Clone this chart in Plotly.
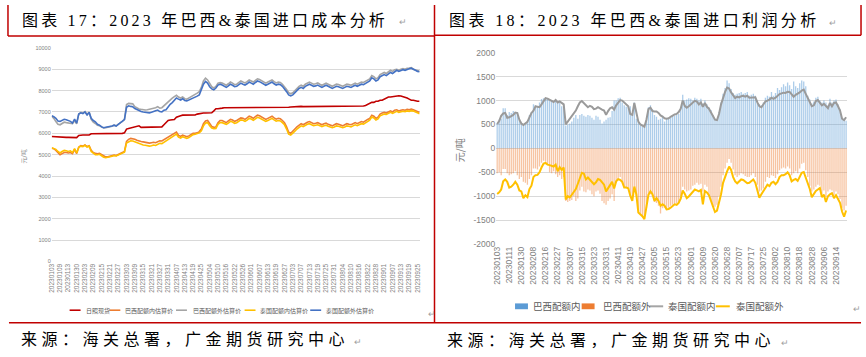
import plotly.graph_objects as go

W, H = 866, 357


def px(x):
    return x / W


def py(y):
    return 1 - y / H


# ---------------- Left chart data (元/吨) ----------------
left_ticklabels = [
    "20230103", "20230109", "20230113", "20230130", "20230203", "20230209", "20230215", "20230221",
    "20230227", "20230303", "20230309", "20230315", "20230321", "20230327", "20230331", "20230407",
    "20230413", "20230419", "20230425", "20230504", "20230510", "20230516", "20230522", "20230526",
    "20230601", "20230607", "20230613", "20230619", "20230627", "20230703", "20230707", "20230713",
    "20230719", "20230725", "20230731", "20230804", "20230810", "20230816", "20230822", "20230828",
    "20230901", "20230907", "20230913", "20230919", "20230925",
]
left_yticks = [0, 1000, 2000, 3000, 4000, 5000, 6000, 7000, 8000, 9000, 10000]

rizhao_spot = [
    5850, 5840, 5840, 5830, 5830, 5820, 5820, 5810, 5810, 5800, 5800, 5800, 5800,
    5900, 5920, 5920, 5920, 5930, 5920,
    5980, 5980, 5980, 5990, 5980, 5980,
    6000, 6000, 6000, 6010, 6000, 6000, 6000, 6010, 6000, 6000, 6020,
    6200, 6230, 6250, 6300, 6300, 6320, 6350,
    6280, 6280, 6270, 6280, 6280, 6270, 6280, 6280, 6280, 6280, 6300,
    6400, 6500, 6600, 6620, 6640, 6650, 6750, 6800, 6820,
    6850, 6850, 6850, 6860, 6850, 6850, 6860,
    6900, 6920, 6950, 6950, 6950, 6950, 6950, 6960, 7050, 7150, 7150, 7180,
    7180, 7200, 7200, 7200, 7190, 7200, 7200, 7210, 7200, 7200,
    7200, 7210, 7200, 7200, 7200, 7210, 7220, 7200, 7200, 7200,
    7210, 7200, 7200, 7210, 7220, 7200, 7200, 7200, 7210, 7200,
    7200, 7200,
    7220, 7230, 7240, 7250, 7250, 7250, 7260, 7250, 7250, 7250,
    7260, 7250, 7250, 7250, 7260, 7250, 7250, 7260, 7250, 7250,
    7250, 7260, 7250, 7260, 7260, 7250, 7260, 7270, 7260, 7260,
    7270, 7260, 7270, 7280, 7280, 7270, 7280, 7300,
    7350, 7400, 7450, 7450, 7500, 7500, 7550, 7550, 7600, 7650, 7700, 7700, 7720,
    7750, 7750, 7760, 7750, 7720, 7700, 7650, 7600, 7550, 7550, 7520, 7500, 7500,
]

brazil_in_est = [
    5300, 5280, 5200, 5080, 5000, 5050, 5100, 5100, 5080, 5100,
    5050, 5250, 5050, 5350, 5420, 5400, 5460, 5380, 5420, 5200,
    5100, 5060, 5040, 5060, 5000, 4920, 4900, 4900, 4920, 4950,
    4980, 4960, 5000, 5050, 5080, 5150, 5620, 5720, 5760, 5750,
    5720, 5680, 5640, 5620, 5600, 5580, 5560, 5540, 5560, 5580,
    5560, 5600, 5650, 5640, 5700, 5780, 5820, 5900, 5960, 6000,
    6060, 5900, 5860, 5920, 5880, 5840, 5880, 5940, 6000, 6000,
    6020, 6080, 6200, 6450, 6580, 6600, 6450, 6320, 6280, 6300,
    6500, 6600,
    6600, 6550, 6500, 6580, 6650, 6620, 6560, 6600, 6680, 6720,
    6700, 6650, 6720, 6800, 6760, 6700, 6780, 6850, 6820, 6760,
    6700, 6650, 6700, 6760, 6800, 6720, 6660, 6700, 6680, 6600,
    6500, 6300, 6050, 6000, 6080, 6200, 6300, 6400, 6450, 6400,
    6480, 6520, 6550, 6500, 6450, 6470, 6500, 6450, 6400, 6450,
    6480, 6420, 6380, 6350, 6400, 6450, 6420, 6380, 6350, 6400,
    6450, 6420, 6400, 6450, 6500, 6450, 6500, 6550, 6520, 6600,
    6650, 6700, 6850, 6800, 6700, 6750, 6900, 6950, 6980, 6950,
    7000, 7050, 7000, 7080, 7100, 7050, 7080, 7100, 7080, 7120,
    7100, 7130, 7100, 7050, 7000, 6980,
]

brazil_out_est = [
    6800, 6700, 6550, 6420, 6400, 6450, 6520, 6500, 6480, 6470,
    6450, 6600, 6440, 6900, 6980, 6950, 7020, 6880, 7000, 6650,
    6520, 6460, 6380, 6350, 6280, 6250, 6260, 6280, 6290, 6330,
    6380, 6350, 6420, 6480, 6560, 6650, 7350, 7400, 7400, 7380,
    7250, 7180, 7140, 7120, 7100, 7090, 7100, 7120, 7150, 7180,
    7200, 7250, 7180, 7200, 7300, 7400, 7500, 7580, 7650, 7720,
    7780, 7700, 7650, 7700, 7620, 7600, 7650, 7700, 7760, 7820,
    7880, 7950, 8150, 8450, 8580, 8500, 8300, 8180, 8120, 8200,
    8350, 8380,
    8350, 8300, 8250, 8320, 8400, 8350, 8280, 8300, 8380, 8450,
    8400, 8360, 8420, 8500, 8450, 8400, 8480, 8550, 8520, 8460,
    8400, 8350, 8400, 8450, 8500, 8420, 8360, 8400, 8380, 8300,
    8200, 8050, 7900, 7850, 7900, 8000, 8100, 8200, 8250, 8200,
    8300, 8350, 8400, 8350, 8300, 8320, 8360, 8300, 8250, 8300,
    8350, 8300, 8250, 8200, 8250, 8300, 8280, 8220, 8200, 8250,
    8300, 8280, 8250, 8300, 8350, 8300, 8350, 8400, 8380, 8450,
    8500, 8550, 8700, 8650, 8550, 8600, 8750, 8800, 8850, 8800,
    8900, 8950, 8900, 8980, 9000, 8950, 9000, 9030, 9000, 9050,
    9060, 9080, 9000, 8970, 8920, 8900,
]

thai_in_est = [
    5320, 5300, 5250, 5150, 5080, 5150, 5200, 5180, 5150, 5180,
    5100, 5280, 5080, 5350, 5400, 5380, 5440, 5360, 5400, 5150,
    5050, 5000, 5000, 5020, 4950, 4880, 4860, 4870, 4900, 4930,
    4960, 4940, 4980, 5020, 5060, 5120, 5550, 5620, 5650, 5640,
    5600, 5540, 5500, 5470, 5450, 5440, 5420, 5400, 5420, 5450,
    5430, 5480, 5530, 5520, 5580, 5680, 5720, 5800, 5860, 5900,
    5960, 5820, 5780, 5840, 5800, 5760, 5800, 5880, 5940, 5960,
    5980, 6020, 6120, 6350, 6480, 6500, 6360, 6250, 6220, 6230,
    6420, 6500,
    6500, 6460, 6420, 6480, 6560, 6530, 6470, 6500, 6580, 6630,
    6610, 6560, 6620, 6700, 6670, 6610, 6680, 6750, 6720, 6670,
    6610, 6560, 6600, 6660, 6700, 6630, 6570, 6600, 6580, 6500,
    6400, 6200, 5960, 5920, 5990, 6100, 6200, 6300, 6350, 6310,
    6380, 6420, 6450, 6400, 6360, 6380, 6400, 6360, 6310, 6350,
    6380, 6330, 6290, 6260, 6300, 6350, 6330, 6290, 6260, 6300,
    6350, 6330, 6300, 6350, 6400, 6360, 6400, 6450, 6430, 6500,
    6560, 6620, 6760, 6720, 6620, 6670, 6820, 6870, 6900, 6880,
    6930, 6980, 6930, 7000, 7030, 6980, 7000, 7030, 7010, 7050,
    7030, 7060, 7040, 6990, 6940, 6920,
]

thai_out_est = [
    6820, 6780, 6700, 6580, 6560, 6620, 6660, 6640, 6600, 6560,
    6480, 6660, 6480, 6900, 6960, 6920, 7000, 6860, 6980, 6700,
    6600, 6540, 6420, 6380, 6300, 6260, 6280, 6300, 6300, 6340,
    6380, 6340, 6420, 6480, 6560, 6640, 7220, 7290, 7260, 7240,
    7160, 7100, 7040, 7020, 7000, 6980, 6970, 6960, 6990, 7010,
    7060, 7090, 7020, 7000, 7080, 7100, 7240, 7360, 7440, 7550,
    7650, 7600, 7560, 7620, 7540, 7520, 7560, 7600, 7640, 7700,
    7740, 7800, 8020, 8300, 8430, 8350, 8180, 8080, 8040, 8120,
    8260, 8300,
    8260, 8200, 8150, 8220, 8300, 8250, 8180, 8200, 8280, 8350,
    8300, 8260, 8320, 8400, 8350, 8300, 8380, 8450, 8420, 8360,
    8300, 8250, 8300, 8350, 8400, 8320, 8260, 8300, 8280, 8200,
    8100, 7950, 7800, 7750, 7800, 7900, 8000, 8100, 8150, 8100,
    8200, 8250, 8300, 8250, 8200, 8220, 8260, 8200, 8150, 8200,
    8250, 8200, 8150, 8100, 8150, 8200, 8180, 8120, 8100, 8150,
    8200, 8180, 8150, 8200, 8250, 8200, 8250, 8300, 8280, 8350,
    8400, 8450, 8600, 8550, 8450, 8500, 8650, 8700, 8750, 8700,
    8800, 8850, 8800, 8900, 8950, 8900, 8950, 8980, 8950, 9000,
    9020, 9050, 8980, 8950, 8900, 8880,
]

left_series = [
    ("日照现货", rizhao_spot, "#C00000"),
    ("巴西配额内估算价", brazil_in_est, "#ED7D31"),
    ("巴西配额外估算价", brazil_out_est, "#A5A5A5"),
    ("泰国配额内估算价", thai_in_est, "#FFC000"),
    ("泰国配额外估算价", thai_out_est, "#4472C4"),
]

# ---------------- Right chart data (元/吨) ----------------
right_ticklabels = [
    "20230103", "20230111", "20230130", "20230208", "20230216", "20230227", "20230307", "20230315",
    "20230323", "20230331", "20230411", "20230419", "20230427", "20230505", "20230515", "20230523",
    "20230601", "20230609", "20230620", "20230628", "20230707", "20230717", "20230725", "20230802",
    "20230810", "20230818", "20230828", "20230906", "20230914",
]
right_yticks = [-2000, -1500, -1000, -500, 0, 500, 1000, 1500, 2000]

brazil_in_profit = [
    530, 600, 620, 840, 840, 700, 760, 740, 780, 720,
    760, 600, 530, 470, 500, 560, 700, 760, 920, 900,
    880, 960, 1030, 1050, 1040, 1050, 1000, 1000, 960, 1020,
    950, 960, 880, 900, 480, 500, 520, 560, 640, 700,
    620, 700, 720, 680, 660, 700, 680, 640, 600, 680,
    660, 600, 520, 560, 600, 640, 650, 780, 1000, 1000,
    1050, 1060, 960, 900, 870, 860, 880, 700, 960, 620,
    560, 480, 450, 440, 600, 860, 900, 820, 700, 660,
    600, 620, 680, 560, 620, 640, 640, 680, 680, 700,
    720, 860, 1120, 1000, 1020, 1050, 1040, 1000, 1060, 1040,
    1000, 1040, 940, 1000, 920, 860, 800, 700, 620, 600,
    760, 960, 1140, 1260, 1420, 1360, 1240, 1160, 1120, 1140,
    1160, 1180, 1140, 1160, 1180, 1100, 1120, 1140, 1100, 1000,
    920, 900, 960, 1060, 1100, 1080, 1180, 1100, 1160, 1260,
    1220, 1280, 1340, 1300, 1380, 1320, 1240, 1400, 1300, 1260,
    1360, 1420, 1400, 1300, 1100, 1020, 940, 980, 1060, 1080,
    1000, 960, 1000, 960, 900, 1040, 960, 1000, 1020, 920,
    820, 640, 600, 580,
]

brazil_out_profit = [
    -520, -500, -560, -430, -430, -520, -560, -540, -520, -480,
    -560, -640, -600, -700, -720, -760, -640, -560, -420, -420,
    -440, -380, -300, -260, -280, -320, -500, -520, -480, -540,
    -600, -560, -640, -600, -1100, -1120, -1100, -1080, -1000, -1100,
    -1050, -880, -800, -900, -920, -860, -880, -960, -1000, -900,
    -880, -950, -1100, -1150, -1180, -1100, -1050, -960, -1100, -720,
    -640, -600, -680, -800, -820, -820, -1000, -1100, -800, -1000,
    -1300, -1360, -1420, -1440, -1250, -1000, -960, -1000, -1120, -1140,
    -1200, -1360, -1250, -1240, -1260, -1240, -1200, -1180, -1160, -1150,
    -1120, -1000, -800, -860, -900, -880, -860, -780, -760, -720,
    -760, -740, -900, -760, -800, -980, -1100, -1200, -1220, -1180,
    -1000, -800, -560, -420, -300, -220, -300, -440, -560, -600,
    -560, -520, -540, -580, -600, -600, -560, -520, -600, -760,
    -900, -880, -840, -700, -600, -620, -560, -580, -620, -540,
    -460, -420, -400, -420, -380, -420, -560, -520, -480, -520,
    -420, -320, -300, -460, -600, -780, -900, -860, -800, -760,
    -780, -960, -880, -1000, -900, -860, -880, -980, -900, -960,
    -1060, -1240, -1300, -1200,
]

thai_in_profit = [
    510, 570, 680, 730, 740, 640, 650, 680, 700, 750,
    740, 600, 520, 490, 520, 555, 650, 740, 790, 880,
    870, 860, 920, 990, 1050, 1040, 1020, 1000, 970, 1010,
    960, 980, 940, 920, 500, 560, 620, 680, 720, 790,
    880, 960, 990, 940, 900, 860, 890, 870, 820, 830,
    860, 830, 810, 790, 700, 780, 840, 860, 810, 900,
    960, 1010, 1000, 960, 930, 880, 720, 700, 950, 780,
    560, 500, 480, 450, 600, 820, 850, 780, 770, 770,
    740, 690, 665, 630, 620, 630, 660, 690, 710, 720,
    760, 830, 1000, 890, 850, 880, 920, 970, 995, 980,
    920, 960, 870, 950, 870, 830, 750, 660, 600, 590,
    720, 920, 1080, 1180, 1270, 1250, 1170, 1110, 1050, 1080,
    1065, 1090, 1100, 1080, 1100, 1060, 1060, 1075, 1070, 960,
    880, 860, 920, 980, 1000, 1020, 1060, 1035, 1060, 1100,
    1135, 1150, 1165, 1160, 1185, 1180, 1120, 1080, 1120, 1140,
    1170, 1210, 1230, 1140, 1060, 970, 880, 900, 990, 1010,
    940, 900, 930, 880, 840, 950, 880, 950, 960, 880,
    790, 620, 590, 650,
]

thai_out_profit = [
    -955, -920, -860, -690, -650, -700, -820, -800, -760, -700,
    -760, -880, -900, -1040, -980, -1020, -850, -780, -600, -560,
    -555, -500, -400, -320, -305, -340, -350, -360, -380, -340,
    -480, -395, -450, -400, -1070, -1000, -1025, -970, -920, -850,
    -740, -620, -510, -530, -650, -610, -660, -710, -750, -710,
    -640, -660, -700, -760, -900, -840, -760, -700, -840, -690,
    -645, -660, -700, -820, -820, -835, -990, -1100, -800, -960,
    -1340, -1375, -1420, -1480, -1200, -970, -900, -960, -1100, -1040,
    -1100, -1200, -1170, -1200, -1275, -1270, -1240, -1200, -1170, -1180,
    -1140, -1050, -880, -950, -1040, -1005, -955, -900, -860, -880,
    -900, -870, -1170, -890, -920, -980, -1110, -1230, -1330, -1300,
    -1150, -960, -720, -580, -480, -380, -450, -600, -690, -730,
    -680, -650, -660, -700, -730, -720, -680, -650, -720, -850,
    -1030, -960, -900, -820, -760, -790, -720, -700, -750, -700,
    -600, -560, -560, -540, -500, -560, -690, -660, -640, -680,
    -600, -510, -495, -620, -720, -850, -1020, -960, -890, -860,
    -830, -1020, -970, -1120, -1000, -960, -935, -1040, -980, -1060,
    -1140, -1320, -1430, -1300,
]

# ---------------- Figure ----------------
fig = go.Figure()

nl = len(rizhao_spot)
xl = list(range(nl))
for name, vals, color in left_series:
    fig.add_trace(go.Scatter(
        x=xl, y=vals, mode="lines", name=name, showlegend=False,
        line=dict(color=color, width=1.6), xaxis="x", yaxis="y",
        hoverinfo="skip",
    ))

nr = len(brazil_in_profit)
xr = list(range(nr))
fig.add_trace(go.Bar(
    x=xr, y=brazil_in_profit, name="巴西配额内", showlegend=False,
    marker=dict(color="rgba(91,155,213,0.50)", line=dict(width=0)),
    xaxis="x2", yaxis="y2",
))
fig.add_trace(go.Bar(
    x=xr, y=brazil_out_profit, name="巴西配额外", showlegend=False,
    marker=dict(color="rgba(237,125,49,0.45)", line=dict(width=0)),
    xaxis="x2", yaxis="y2",
))
fig.add_trace(go.Scatter(
    x=xr, y=thai_in_profit, mode="lines", name="泰国配额内", showlegend=False,
    line=dict(color="#9A9A9A", width=2), xaxis="x2", yaxis="y2",
))
fig.add_trace(go.Scatter(
    x=xr, y=thai_out_profit, mode="lines", name="泰国配额外", showlegend=False,
    line=dict(color="#FFC000", width=2), xaxis="x2", yaxis="y2",
))

GRID = "#D9D9D9"
TICK = "#7F7F7F"
SANS = "Liberation Sans, Noto Sans CJK SC"
CJK = "Noto Sans CJK SC"
SERIF = "Liberation Serif, Noto Sans CJK SC"

fig.update_layout(
    width=W, height=H, autosize=False,
    margin=dict(l=0, r=0, t=0, b=0),
    paper_bgcolor="white", plot_bgcolor="white",
    barmode="relative", bargap=0.35,
    showlegend=False,
    xaxis=dict(
        domain=[px(48), px(418)], range=[0, nl - 1],
        tickmode="array", tickvals=list(range(0, nl, 4)), ticktext=left_ticklabels,
        tickangle=-90, tickfont=dict(family=SANS, size=6.5, color=TICK),
        showgrid=False, zeroline=False, showline=False, ticks="",
        anchor="y", fixedrange=True,
    ),
    yaxis=dict(
        domain=[py(264), py(44)], range=[-5, 10005],
        tickmode="array", tickvals=left_yticks, ticktext=[str(v) for v in left_yticks],
        tickfont=dict(family=SANS, size=5.5, color=TICK),
        gridcolor=GRID, gridwidth=1, zeroline=False, showline=False, ticks="",
        anchor="x", fixedrange=True,
    ),
    xaxis2=dict(
        domain=[px(495), px(848)], range=[-0.5, nr - 0.5],
        tickmode="array", tickvals=list(range(0, nr, 6))[:len(right_ticklabels)],
        ticktext=right_ticklabels,
        tickangle=-90, tickfont=dict(family=SANS, size=8.5, color=TICK),
        showgrid=False, zeroline=False, showline=False, ticks="",
        anchor="y2", fixedrange=True,
    ),
    yaxis2=dict(
        domain=[py(246), py(49)], range=[-2002, 2002],
        tickmode="array", tickvals=right_yticks, ticktext=[str(v) for v in right_yticks],
        tickfont=dict(family=SANS, size=8.5, color=TICK),
        gridcolor=GRID, gridwidth=1, zeroline=False, showline=False, ticks="",
        anchor="x2", fixedrange=True,
    ),
)

RED = "#C00000"
shapes = []


def seg(x0, y0, x1, y1, color=RED, width=1.5):
    shapes.append(dict(type="line", xref="paper", yref="paper",
                       x0=px(x0), y0=py(y0), x1=px(x1), y1=py(y1),
                       line=dict(color=color, width=width)))


# document frame lines
seg(4, 0, 4, 32)
seg(4, 32, 433, 32)
seg(433, 0, 433, 327)
seg(433, 31, 862, 31)
seg(862, 0, 862, 31)
seg(5, 327, 862, 327)

annotations = []


def text(x, y, s, size, color="#000000", family=CJK, xanchor="left", angle=0):
    annotations.append(dict(x=px(x), y=py(y), xref="paper", yref="paper", text=s,
                            showarrow=False, xanchor=xanchor, yanchor="middle",
                            textangle=angle, font=dict(family=family, size=size, color=color)))


# titles & sources
text(16, 16, '<span style="letter-spacing:3.2px">图表 17：2023 年巴西&泰国进口成本分析</span>', 16, family=SERIF)
text(446, 16, '<span style="letter-spacing:3.4px">图表 18：2023 年巴西&泰国进口利润分析</span>', 16, family=SERIF)
text(15, 344, '<span style="letter-spacing:4.5px">来源：海关总署，广金期货研究中心</span>', 16, family=SERIF)
text(444, 345, '<span style="letter-spacing:4.5px">来源：海关总署，广金期货研究中心</span>', 16, family=SERIF)

# paragraph marks
for (x, y) in [(395, 18), (828, 19), (350, 347), (780, 348), (424, 318), (852, 313)]:
    text(x, y, "↵", 9, color="#A0A0A0", family=SANS)

# axis titles
text(20, 156, "元/吨", 6, color=TICK, family=CJK, xanchor="center", angle=-90)
text(458, 149, "元/吨", 10, color=TICK, family=CJK, xanchor="center", angle=-90)

# left legend (manual)
left_leg = [(66, 80), (106, 120), (173, 188), (242, 255), (308, 322)]
for (lx, tx), (name, _, color) in zip(left_leg, left_series):
    seg(lx, 314, lx + 11, 314, color=color, width=1.6)
    text(tx, 314, name, 6, color="#595959", family=CJK)

# right legend (manual)
right_leg = [
    ("rect", 514, 530, "巴西配额内", "#5B9BD5"),
    ("rect", 581, 600, "巴西配额外", "#ED7D31"),
    ("line", 649, 666, "泰国配额内", "#A5A5A5"),
    ("line", 716, 734, "泰国配额外", "#FFC000"),
]
for kind, lx, tx, name, color in right_leg:
    if kind == "rect":
        shapes.append(dict(type="rect", xref="paper", yref="paper",
                           x0=px(lx), x1=px(lx + 13), y0=py(313), y1=py(307),
                           fillcolor=color, line=dict(width=0)))
    else:
        seg(lx, 310, lx + 14, 310, color=color, width=2)
    text(tx, 310, name, 9.5, color="#595959", family=CJK)

fig.update_layout(shapes=shapes, annotations=annotations)

fig.write_html(
    "out.html",
    config={"displayModeBar": False, "staticPlot": True},
    post_script="document.body.style.margin='0';document.body.style.overflow='hidden';",
)
